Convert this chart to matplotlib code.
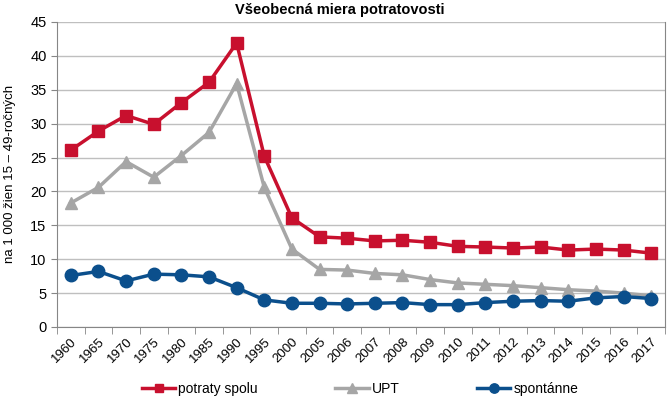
import matplotlib
matplotlib.use("Agg")
import matplotlib.pyplot as plt
import numpy as np

plt.rcParams['font.family'] = ['Liberation Sans', 'DejaVu Sans']

roky = ['1960', '1965', '1970', '1975', '1980', '1985', '1990', '1995', '2000', '2005',
        '2006', '2007', '2008', '2009', '2010', '2011', '2012', '2013', '2014', '2015',
        '2016', '2017']
potraty_spolu = [26.1, 28.9, 31.2, 29.9, 33.1, 36.1, 41.9, 25.2, 16.1, 13.3,
                 13.1, 12.7, 12.8, 12.5, 11.9, 11.8, 11.65, 11.8, 11.35, 11.5,
                 11.35, 10.9]
upt = [18.3, 20.6, 24.4, 22.1, 25.3, 28.7, 35.9, 20.6, 11.5, 8.5,
       8.4, 7.9, 7.7, 7.0, 6.5, 6.3, 6.1, 5.8, 5.5, 5.3,
       5.0, 4.6]
spontanne = [7.6, 8.2, 6.8, 7.8, 7.7, 7.4, 5.8, 4.0, 3.5, 3.5,
             3.4, 3.5, 3.6, 3.3, 3.3, 3.6, 3.8, 3.9, 3.8, 4.3,
             4.5, 4.2]

x = np.arange(len(roky))

fig = plt.figure(figsize=(6.71, 4.01), dpi=100)
ax = fig.add_axes([57/671, 1 - 327/401, 608/671, 305/401])

ax.plot(x, potraty_spolu, color='#C8102E', lw=2.5, marker='s', ms=8, label='potraty spolu')
ax.plot(x, upt, color='#A6A6A6', lw=2.5, marker='^', ms=9, label='UPT')
ax.plot(x, spontanne, color='#0B4F8C', lw=2.5, marker='o', ms=9, label='spontánne')

ax.set_xlim(-0.5, len(roky) - 0.5)
ax.set_ylim(0, 45)
ax.set_yticks(np.arange(0, 46, 5))
ax.yaxis.grid(True, color='#BFBFBF', lw=1)
ax.set_axisbelow(True)
for s in ax.spines.values():
    s.set_color('#868686')
ax.spines['top'].set_visible(False)

ax.set_xticks(x)
ax.set_xticks(np.arange(-0.5, len(roky), 1), minor=True)
ax.set_xticklabels(roky, rotation=45, ha='right', rotation_mode='anchor', fontsize=9.5)
ax.tick_params(axis='x', which='major', length=0, pad=6)
ax.tick_params(axis='x', which='minor', length=5, color='#868686')
ax.tick_params(axis='y', length=4, color='#868686', labelsize=10.5)

fig.text(10/671, 1 - 174/401, 'na 1 000 žien 15 – 49-ročných', rotation=90,
         ha='center', va='center', fontsize=9.5)
fig.text(340/671, 1 - 10/401, 'Všeobecná miera potratovosti', ha='center', va='center',
         fontsize=10.5, fontweight='bold')

fig.legend(loc='center', bbox_to_anchor=(360/671, 1 - 389/401), ncol=3, frameon=False,
           fontsize=10, columnspacing=5.6, handlelength=2.4, handletextpad=0.2, markerscale=0.75)

fig.savefig('out.png', dpi=100)
